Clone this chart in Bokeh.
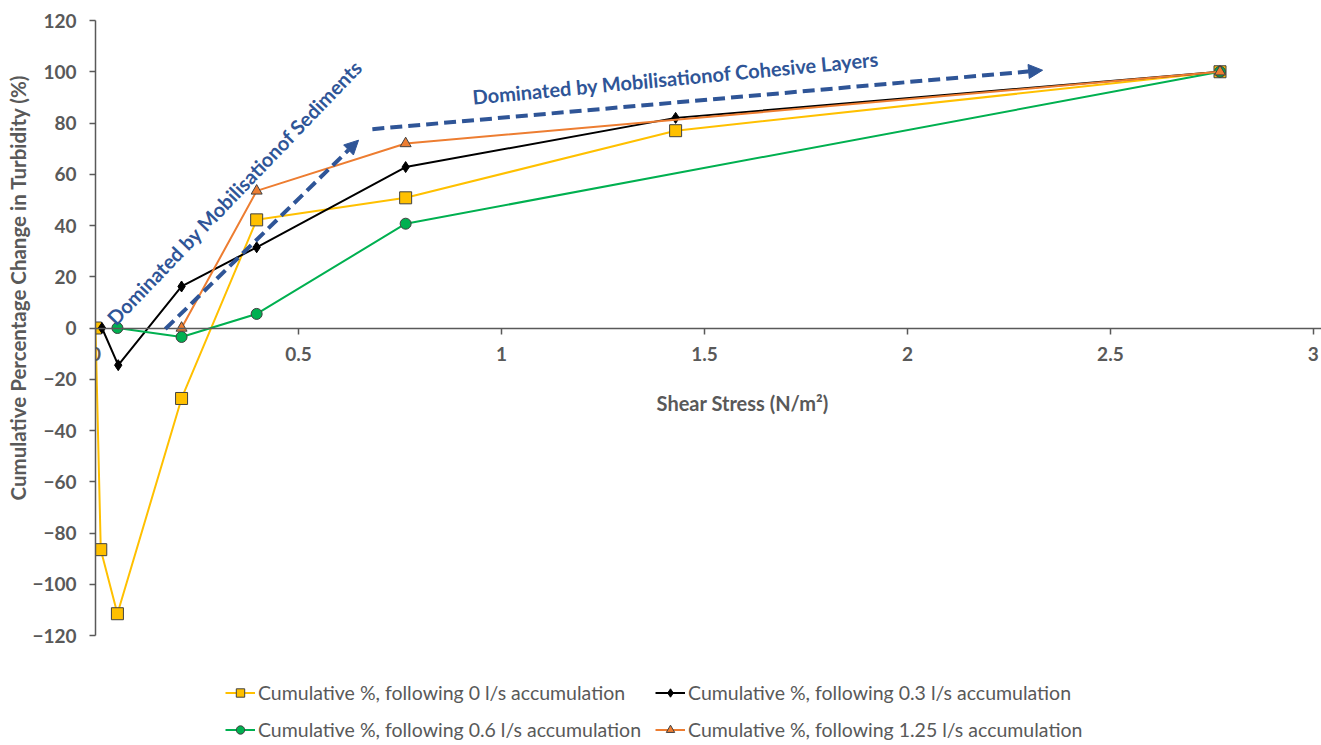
import math
from bokeh.plotting import figure
from bokeh.models import (Range1d, LinearAxis, FixedTicker, CustomJSTickFormatter, Legend,
                          LegendItem, Arrow, NormalHead, Label, Title)
from bokeh.embed import file_html
from bokeh.resources import INLINE

# ---- data ----
x_0ls = [0.0, 0.013, 0.054, 0.212, 0.397, 0.764, 1.429, 2.77]
y_0ls = [0.0, -86.5, -111.5, -27.5, 42.2, 50.8, 77.0, 100.0]
x_03ls = [0.016, 0.056, 0.212, 0.397, 0.764, 1.429, 2.77]
y_03ls = [0.0, -14.5, 16.2, 31.5, 62.8, 82.0, 100.0]
x_06ls = [0.054, 0.212, 0.397, 0.764, 2.77]
y_06ls = [0.0, -3.5, 5.5, 40.7, 100.0]
x_125ls = [0.212, 0.397, 0.764, 2.77]
y_125ls = [0.0, 53.5, 72.0, 100.0]

labels = ["Cumulative %, following 0 l/s accumulation",
          "Cumulative %, following 0.3 l/s accumulation",
          "Cumulative %, following 0.6 l/s accumulation",
          "Cumulative %, following 1.25 l/s accumulation"]

x_ticks = [0, 0.5, 1, 1.5, 2, 2.5, 3]
y_ticks = [-120, -100, -80, -60, -40, -20, 0, 20, 40, 60, 80, 100, 120]

FONT = "Lato"
GREY = "#595959"
BLUE = "#2F5597"

# the frame reaches the bottom of the canvas so that the legend can sit under the axis range
Y_MIN_AXIS, Y_MAX = -120, 120
Y_MIN_FRAME = Y_MIN_AXIS - 110 * (Y_MAX - Y_MIN_AXIS) / 615

p = figure(frame_width=1226, frame_height=725, x_range=Range1d(0, 3.02),
           y_range=Range1d(Y_MIN_FRAME, Y_MAX),
           output_backend="svg", toolbar_location=None, x_axis_location=None,
           min_border_left=95, min_border_right=0, min_border_top=20, min_border_bottom=0)
p.grid.visible = False
p.outline_line_color = None
p.background_fill_color = "white"
p.border_fill_color = "white"

# y axis
ya = p.yaxis[0]
ya.bounds = (Y_MIN_AXIS, Y_MAX)
ya.ticker = FixedTicker(ticks=y_ticks)
ya.axis_line_color = GREY
ya.axis_line_width = 1.5
ya.major_tick_line_color = GREY
ya.major_tick_line_width = 1.5
ya.major_tick_out = 6
ya.major_tick_in = 0
ya.minor_tick_line_color = None
ya.major_label_text_font = FONT
ya.major_label_text_font_style = "bold"
ya.major_label_text_font_size = "19px"
ya.major_label_text_color = GREY
ya.major_label_standoff = 13

# y axis title
p.add_layout(Title(text="Cumulative Percentage Change in Turbidity (%)", align="left",
                   offset=245, text_font=FONT, text_font_style="bold",
                   text_font_size="20.5px", text_color=GREY, standoff=0), "left")

# x axis at y = 0
xa = LinearAxis(fixed_location=0, ticker=FixedTicker(ticks=x_ticks),
                formatter=CustomJSTickFormatter(code="return String(Math.round(tick*10)/10);"))
xa.axis_line_color = GREY
xa.axis_line_width = 1.5
xa.major_tick_line_color = GREY
xa.major_tick_line_width = 1.5
xa.major_tick_out = 6
xa.major_tick_in = 0
xa.minor_tick_line_color = None
xa.major_label_text_font = FONT
xa.major_label_text_font_style = "bold"
xa.major_label_text_font_size = "19px"
xa.major_label_text_color = GREY
xa.major_label_standoff = 13
p.add_layout(xa, "below")

# x axis title (inside the frame, below the axis at y = 0)
p.add_layout(Label(x=1.594, y=-29.2, text="Shear Stress (N/m²)",
                   text_align="center", text_baseline="middle",
                   text_font=FONT, text_font_style="bold", text_font_size="20px",
                   text_color=GREY))

# series
MK_LINE = "#404040"
l0 = p.line(x_0ls, y_0ls, line_color="#FFC000", line_width=2)
s0 = p.scatter(x_0ls, y_0ls, marker="square", size=12, fill_color="#FFC000",
               line_color=MK_LINE, line_width=1)
l1 = p.line(x_03ls, y_03ls, line_color="black", line_width=2)
s1 = p.scatter(x_03ls, y_03ls, marker="diamond", size=11, fill_color="black",
               line_color="black", line_width=1)
l2 = p.line(x_06ls, y_06ls, line_color="#00B050", line_width=2)
s2 = p.scatter(x_06ls, y_06ls, marker="circle", size=11, fill_color="#00B050",
               line_color=MK_LINE, line_width=1)
l3 = p.line(x_125ls, y_125ls, line_color="#ED7D31", line_width=2)
s3 = p.scatter(x_125ls, y_125ls, marker="triangle", size=11, fill_color="#ED7D31",
               line_color=MK_LINE, line_width=1)

# annotations
p.add_layout(Arrow(x_start=0.172, y_start=-0.4, x_end=0.648, y_end=73.3,
                   line_color=BLUE, line_width=4, line_dash="12 6",
                   end=NormalHead(size=14, fill_color=BLUE, line_color=BLUE)))
p.add_layout(Arrow(x_start=0.682, y_start=77.6, x_end=2.333, y_end=100.6,
                   line_color=BLUE, line_width=4, line_dash="12 6",
                   end=NormalHead(size=14, fill_color=BLUE, line_color=BLUE)))
p.add_layout(Label(x=0.342, y=53, text="Dominated by Mobilisationof Sediments",
                   angle=0.806, text_align="center", text_baseline="middle",
                   text_font=FONT, text_font_style="bold", text_font_size="20px",
                   text_color=BLUE))
p.add_layout(Label(x=1.429, y=97.7, text="Dominated by Mobilisationof Cohesive Layers",
                   angle=0.094, text_align="center", text_baseline="middle",
                   text_font=FONT, text_font_style="bold", text_font_size="20px",
                   text_color=BLUE))

legend = Legend(items=[LegendItem(label=labels[0], renderers=[l0, s0]),
                       LegendItem(label=labels[1], renderers=[l1, s1]),
                       LegendItem(label=labels[2], renderers=[l2, s2]),
                       LegendItem(label=labels[3], renderers=[l3, s3])],
                orientation="horizontal", ncols=2, location=(130, 4),
                label_text_font=FONT, label_text_font_size="19.5px", label_text_color=GREY,
                glyph_width=30, glyph_height=21, label_height=21, label_standoff=3,
                spacing=14, padding=0, margin=0, border_line_color=None,
                background_fill_alpha=0)
p.add_layout(legend, "center")

open("out.html", "w").write(file_html(p, INLINE))
